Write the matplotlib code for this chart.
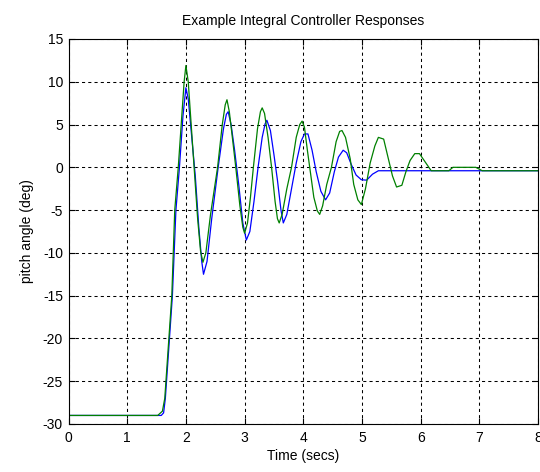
import matplotlib
matplotlib.use("Agg")
import matplotlib.pyplot as plt

plt.rcParams['font.family'] = ['Liberation Sans', 'DejaVu Sans']
plt.rcParams['axes.unicode_minus'] = False

# blue response (time in secs, pitch angle in deg)
t_blue = [0, 1.58, 1.62, 1.65, 1.67, 1.72, 1.77, 1.80, 1.83, 1.89, 1.95, 2.00,
          2.04, 2.10, 2.16, 2.22, 2.27, 2.30, 2.36, 2.44, 2.55, 2.64, 2.69, 2.72,
          2.77, 2.83, 2.90, 2.97, 3.03, 3.09, 3.16, 3.23, 3.30, 3.35, 3.38, 3.44,
          3.50, 3.56, 3.62, 3.66, 3.72, 3.80, 3.88, 3.96, 4.02, 4.08, 4.15, 4.22,
          4.30, 4.38, 4.45, 4.53, 4.60, 4.68, 4.74, 4.82, 4.90, 4.99, 5.08, 5.18,
          5.28, 8.0]
y_blue = [-29, -29, -28.7, -27, -25, -20, -15, -10, -5, 0, 6, 9.3,
          8, 3.5, -1, -7, -11, -12.5, -11, -6, 0, 4.5, 6.2, 6.5,
          5, 2, -2, -6.5, -8.5, -7.5, -4, 0, 3.5, 5.1, 5.5, 4.3,
          1.5, -1.5, -5, -6.5, -5.5, -2.5, 0.5, 3, 3.9, 3.9, 2, -0.5,
          -2.8, -3.8, -3, -0.5, 1.2, 2.0, 1.7, 0.3, -0.9, -1.45, -1.5, -0.8,
          -0.4, -0.4]

# green response
t_green = [0, 1.52, 1.60, 1.64, 1.66, 1.71, 1.76, 1.785, 1.81, 1.87, 1.93, 1.97,
           2.00, 2.04, 2.09, 2.14, 2.20, 2.25, 2.29, 2.34, 2.42, 2.54, 2.62, 2.67,
           2.70, 2.74, 2.80, 2.85, 2.92, 2.97, 3.00, 3.05, 3.10, 3.15, 3.22, 3.27,
           3.30, 3.34, 3.40, 3.46, 3.52, 3.56, 3.59, 3.64, 3.72, 3.80, 3.88, 3.94,
           3.98, 4.02, 4.07, 4.11, 4.18, 4.24, 4.28, 4.33, 4.40, 4.48, 4.56, 4.62,
           4.66, 4.72, 4.80, 4.86, 4.93, 4.99, 5.06, 5.14, 5.22, 5.28, 5.37, 5.45,
           5.52, 5.59, 5.68, 5.75, 5.82, 5.90, 5.98, 6.08, 6.18, 6.48, 6.55, 6.94,
           7.05, 8.0]
y_green = [-29, -29, -28.5, -27, -25, -20, -15, -10, -5, 0, 6, 10,
           11.9, 10, 5, 0, -6, -9.8, -11.1, -10, -5.5, 0, 5, 7.3,
           7.9, 6.5, 3, 0, -4.5, -7, -7.7, -6.5, -3.5, 0, 4.5, 6.5,
           6.95, 6.3, 3.5, 0, -4, -6, -6.5, -5.5, -2.5, 0, 3.5, 5,
           5.4, 4.7, 2, 0, -3.5, -5.1, -5.5, -4.5, -2, 0, 3, 4.2,
           4.3, 3.5, 1, -2, -3.8, -4.35, -2.5, 0.5, 2.5, 3.5, 3.3, 1,
           -1, -2.3, -2.1, -0.5, 0.8, 1.6, 1.6, 0.6, -0.4, -0.4, 0, 0,
           -0.4, -0.4]

xticks = [0, 1, 2, 3, 4, 5, 6, 7, 8]
yticks = [-30, -25, -20, -15, -10, -5, 0, 5, 10, 15]

fig = plt.figure(figsize=(5.4, 4.72), dpi=100)
# axes runs out to the right edge, like the (cropped) original
ax = fig.add_axes([0.1269, 0.1017, 0.8694, 0.8157])

ax.plot(t_blue, y_blue, color=(0, 0, 1), linewidth=0.9)
ax.plot(t_green, y_green, color=(0, 0.5, 0), linewidth=0.9)

ax.set_xlim(0, 8)
ax.set_ylim(-30, 15)
ax.set_xticks(xticks)
ax.set_yticks(yticks)
ax.grid(True, color='black', linestyle=(0, (3, 3)), linewidth=0.75)
ax.tick_params(direction='in', length=4, top=True, right=True, labelsize=10)
ax.tick_params(axis='x', pad=5)
ax.tick_params(axis='y', pad=4)
for s in ax.spines.values():
    s.set_linewidth(0.8)

ax.set_title("Example Integral Controller Responses", fontsize=10, pad=10)
ax.set_xlabel("Time (secs)", fontsize=10, labelpad=3)
ax.set_ylabel("pitch angle (deg)", fontsize=10, labelpad=6)

fig.savefig("out.png", dpi=100, facecolor='white')
